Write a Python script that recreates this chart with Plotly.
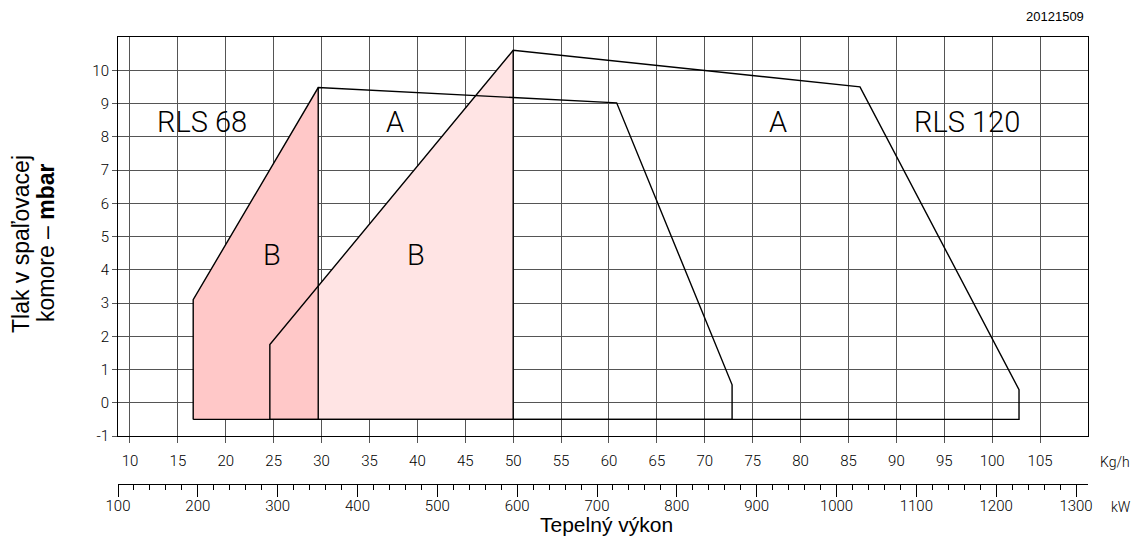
import plotly.graph_objects as go

# ---------------- data ----------------
KGH_TICKS = list(range(10, 110, 5))          # Kg/h tick labels
KW_TICKS = list(range(100, 1400, 100))       # kW tick labels
PRESSURE_TICKS = list(range(-1, 11))         # mbar tick labels

# RLS 68 working field (outline), Kg/h vs mbar
RLS68_X = [16.6, 16.6, 29.65, 60.8, 72.85, 72.85, 16.6]
RLS68_Y = [-0.5, 3.1, 9.48, 9.02, 0.54, -0.5, -0.5]
# RLS 68 zone B (shaded)
RLS68_B_X = [16.6, 16.6, 29.65, 29.65]
RLS68_B_Y = [-0.5, 3.1, 9.48, -0.5]

# RLS 120 working field (outline)
RLS120_X = [24.6, 24.6, 50.0, 86.2, 102.8, 102.8, 24.6]
RLS120_Y = [-0.5, 1.75, 10.6, 9.5, 0.39, -0.5, -0.5]
# RLS 120 zone B (shaded)
RLS120_B_X = [24.6, 24.6, 50.0, 50.0]
RLS120_B_Y = [-0.5, 1.75, 10.6, -0.5]

# labels inside the chart: (text, Kg/h, mbar)
ZONE_LABELS = [("RLS 68", 17.5, 8.45), ("A", 37.65, 8.45), ("A", 77.6, 8.45),
               ("RLS 120", 97.4, 8.45), ("B", 24.8, 4.45), ("B", 39.85, 4.45)]

KGH_RANGE = [8.75, 110]
KW_PER_KGH, KW_OFFSET = 12.0, -5.0
Y_RANGE = [-1, 11]

# ---------------- style ----------------
NARROW = "Roboto, Liberation Sans Narrow, DejaVu Sans Condensed, sans-serif"
SANS = "Liberation Sans, Arial, Helvetica, sans-serif"
GRID = "#555555"
DARK_PINK = "rgb(255,200,200)"
LIGHT_PINK = "rgb(255,228,228)"

W, H = 1131, 537
ML, MR, MT, MB = 118, 43, 37, 53
PW, PH = W - ML - MR, H - MT - MB
Y_BOTTOM_PX = 436
ydom0 = (H - MB - Y_BOTTOM_PX) / PH


def px_to_paper(px, py):
    return (px - ML) / PW, (H - MB - py) / PH


fig = go.Figure()

# shaded B zones
fig.add_trace(go.Scatter(x=RLS120_B_X, y=RLS120_B_Y, fill="toself", fillcolor=LIGHT_PINK,
                         mode="lines", line=dict(width=0), hoverinfo="skip", showlegend=False))
fig.add_trace(go.Scatter(x=RLS68_B_X, y=RLS68_B_Y, fill="toself", fillcolor=DARK_PINK,
                         mode="lines", line=dict(width=0), hoverinfo="skip", showlegend=False))

# outlines
for xs, ys in [(RLS68_X, RLS68_Y), (RLS120_X, RLS120_Y),
               (RLS68_B_X[2:], RLS68_B_Y[2:]), (RLS120_B_X[2:], RLS120_B_Y[2:])]:
    fig.add_trace(go.Scatter(x=xs, y=ys, mode="lines", line=dict(color="black", width=1.4),
                             hoverinfo="skip", showlegend=False))

# dummy trace for the kW axis
kw_range = [KGH_RANGE[0] * KW_PER_KGH + KW_OFFSET, KGH_RANGE[1] * KW_PER_KGH + KW_OFFSET]
fig.add_trace(go.Scatter(x=[KW_TICKS[0]], y=[None], xaxis="x2", mode="markers",
                         hoverinfo="skip", showlegend=False))

annotations = []
for text, xv, yv in ZONE_LABELS:
    annotations.append(dict(x=xv, y=yv, xref="x", yref="y", text=text, showarrow=False,
                            font=dict(family=NARROW, size=29, color="black", weight=300)))


def paper_note(text, px, py, size, family=SANS, xanchor="center", angle=0, weight=400):
    x, y = px_to_paper(px, py)
    annotations.append(dict(x=x, y=y, xref="paper", yref="paper", text=text, showarrow=False,
                            xanchor=xanchor, yanchor="middle", textangle=angle,
                            font=dict(family=family, size=size, color="black", weight=weight)))


paper_note("Kg/h", 1115, 462, 14, NARROW, weight=300)
paper_note("kW", 1121, 507, 14, NARROW, weight=300)
paper_note("Tepelný výkon", 606, 524, 21)
paper_note("20121509", 1086, 17, 13, xanchor="right")
paper_note("Tlak v spaľovacej", 21, 244, 23, angle=-90)
paper_note("komore – <b>mbar</b>", 46, 243, 23, angle=-90)

tickfont = dict(family=NARROW, size=15, color="black", weight=300)

fig.update_layout(
    width=W, height=H, autosize=False,
    margin=dict(l=ML, r=MR, t=MT, b=MB, pad=0),
    paper_bgcolor="white", plot_bgcolor="white",
    showlegend=False,
    annotations=annotations,
    xaxis=dict(range=KGH_RANGE, tickmode="array", tickvals=KGH_TICKS,
               showgrid=True, gridcolor=GRID, gridwidth=1, zeroline=False,
               ticks="outside", ticklen=6, tickcolor=GRID, tickwidth=1,
               showline=True, linecolor="black", linewidth=1, mirror=True,
               tickfont=tickfont, ticklabelstandoff=5, anchor="y"),
    yaxis=dict(range=Y_RANGE, domain=[ydom0, 1], tickmode="array", tickvals=PRESSURE_TICKS,
               ticktext=[str(v) for v in PRESSURE_TICKS],
               showgrid=True, gridcolor=GRID, gridwidth=1, zeroline=False,
               ticks="outside", ticklen=5, tickcolor=GRID, tickwidth=1,
               showline=True, linecolor="black", linewidth=1, mirror=True,
               tickfont=tickfont),
    xaxis2=dict(range=kw_range, overlaying="x", anchor="free", position=0, side="bottom",
                tickmode="linear", tick0=KW_TICKS[0], dtick=KW_TICKS[1] - KW_TICKS[0],
                showgrid=False, zeroline=False,
                ticks="outside", ticklen=12, tickcolor="black", tickwidth=1,
                showline=True, linecolor="black", linewidth=1,
                minor=dict(dtick=20, tick0=KW_TICKS[0], ticks="outside", ticklen=5,
                           tickcolor="black", showgrid=False),
                tickfont=tickfont, ticklabelstandoff=-4),
)

fig.write_html("out.html", config={"displayModeBar": False},
               post_script="document.body.style.margin='0';")
